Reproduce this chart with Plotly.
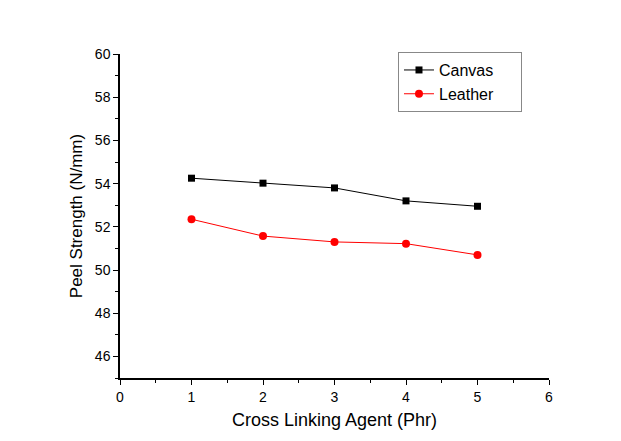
import plotly.graph_objects as go

x_vals = [1, 2, 3, 4, 5]
canvas = [54.25, 54.02, 53.8, 53.2, 52.95]
leather = [52.35, 51.57, 51.3, 51.22, 50.7]
series_names = ["Canvas", "Leather"]

FONT = "Arial, Liberation Sans"
PAD = "\u00a0" * 5

fig = go.Figure()
fig.add_trace(go.Scatter(x=x_vals, y=canvas, mode="lines+markers", name=series_names[0] + PAD,
                         line=dict(color="black", width=1),
                         marker=dict(symbol="square", size=7, color="black")))
fig.add_trace(go.Scatter(x=x_vals, y=leather, mode="lines+markers", name=series_names[1] + PAD,
                         line=dict(color="red", width=1),
                         marker=dict(symbol="circle", size=8, color="red")))

axis_common = dict(showgrid=False, zeroline=False, showline=True, linecolor="black", linewidth=1.5,
                   ticks="outside", ticklen=5, tickwidth=1.2, tickcolor="black",
                   tickfont=dict(family=FONT, size=14, color="black"))
fig.update_xaxes(range=[0, 6], dtick=1, title=dict(text="Cross Linking Agent (Phr)",
                 font=dict(family=FONT, size=18, color="black"), standoff=10),
                 minor=dict(dtick=0.5, ticks="outside", ticklen=3, tickcolor="black"), **axis_common)
fig.update_yaxes(range=[45, 60], tickvals=[46, 48, 50, 52, 54, 56, 58, 60],
                 title=dict(text="Peel Strength (N/mm)",
                 font=dict(family=FONT, size=17, color="black"), standoff=8),
                 minor=dict(dtick=1, ticks="outside", ticklen=3, tickcolor="black"), **axis_common)

fig.update_layout(width=621, height=441, margin=dict(l=120, r=72, t=54, b=63),
                  paper_bgcolor="white", plot_bgcolor="white", showlegend=True,
                  legend=dict(x=0.648, y=1.006, xanchor="left", yanchor="top",
                              bordercolor="#888", borderwidth=1, bgcolor="white",
                              font=dict(family=FONT, size=16, color="black"),
                              tracegroupgap=0, itemwidth=30))
fig.write_html("out.html")
